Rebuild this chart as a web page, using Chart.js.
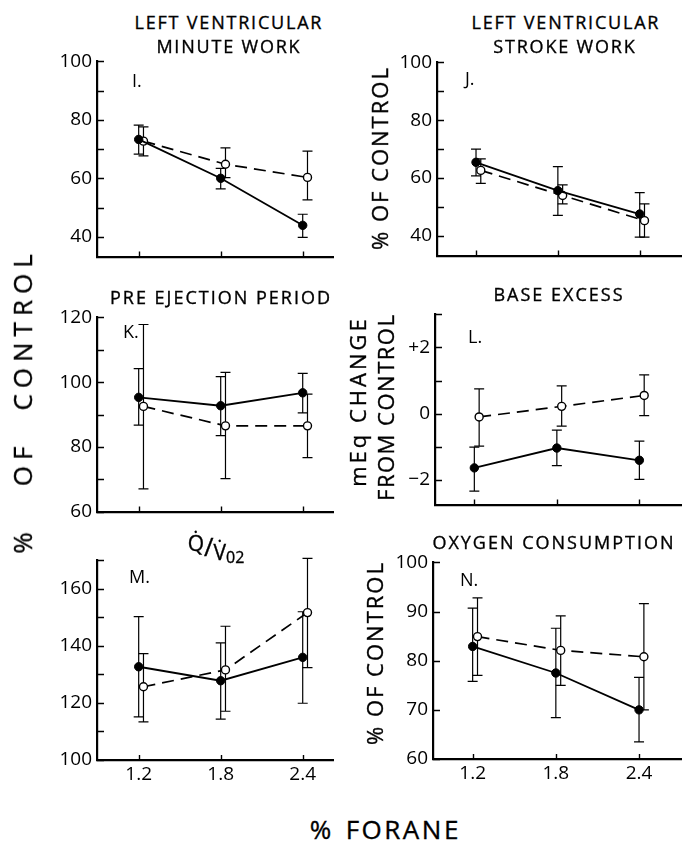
<!DOCTYPE html>
<html><head><meta charset="utf-8">
<script src="https://cdn.jsdelivr.net/npm/chart.js@4.4.1/dist/chart.umd.min.js"></script>
<style>
html,body{margin:0;padding:0;background:#fff;}
#wrap{position:relative;width:687px;height:841px;overflow:hidden;background:#fff;font-family:'Open Sans',sans-serif;color:#000;}
.lbl{position:absolute;white-space:nowrap;line-height:1;transform:translate(-50%,-50%);-webkit-text-stroke:0.35px #000;}
.rot{transform:translate(-50%,-50%) rotate(-90deg);}
canvas{position:absolute;}
</style></head><body><div id="wrap"></div>
<script>
// ---------- data ----------
const doses = [1.2, 1.8, 2.4];
const doseLabels = ['1.2', '1.8', '2.4'];
const openShift = 0.035;

// I. Left ventricular minute work (% of control)
const iSolid = [73.3, 60.0, 43.9];
const iSolidHi = [78.2, 63.4, 47.7];
const iSolidLo = [68.3, 56.4, 39.8];
const iOpen = [72.7, 64.8, 60.3];
const iOpenHi = [77.6, 70.4, 69.3];
const iOpenLo = [67.7, 60.2, 52.6];
const iTicks = [40, 60, 80, 100];
const iTickLabels = ['40', '60', '80', '100'];
const iMinor = [50, 70, 90];

// J. Left ventricular stroke work (% of control)
const jSolid = [65.4, 55.6, 47.5];
const jSolidHi = [70.0, 63.9, 54.9];
const jSolidLo = [60.7, 47.0, 39.5];
const jOpen = [62.6, 53.9, 45.2];
const jOpenHi = [66.6, 57.6, 51.0];
const jOpenLo = [58.1, 51.0, 39.5];
const jTicks = [40, 60, 80, 100];
const jTickLabels = ['40', '60', '80', '100'];
const jMinor = [50, 70, 90];

// K. Pre ejection period (% of control)
const kSolid = [95.3, 92.7, 96.7];
const kSolidHi = [104.2, 101.7, 102.7];
const kSolidLo = [86.7, 83.5, 90.5];
const kOpen = [92.5, 86.5, 86.5];
const kOpenHi = [117.8, 103.0, 96.3];
const kOpenLo = [67.0, 70.2, 76.7];
const kTicks = [60, 80, 100, 120];
const kTickLabels = ['60', '80', '100', '120'];
const kMinor = [70, 90, 110];

// L. Base excess (mEq change from control)
const lSolid = [-1.64, -1.04, -1.41];
const lSolidHi = [-1.01, -0.50, -0.83];
const lSolidLo = [-2.34, -1.57, -1.99];
const lOpen = [-0.10, 0.22, 0.55];
const lOpenHi = [0.75, 0.84, 1.17];
const lOpenLo = [-0.98, -0.38, -0.06];
const lTicks = [-2, 0, 2];
const lTickLabels = ['\u22122', '0', '+2'];
const lMinor = [-1, 1, 3];

// M. Q/VO2 (% of control)
const mSolid = [132.7, 127.8, 136.0];
const mSolidHi = [150.3, 141.1, 152.0];
const mSolidLo = [115.1, 114.3, 119.9];
const mOpen = [125.7, 131.6, 151.7];
const mOpenHi = [137.3, 146.9, 170.7];
const mOpenLo = [113.4, 117.1, 132.4];
const mTicks = [100, 120, 140, 160];
const mTickLabels = ['100', '120', '140', '160'];
const mMinor = [110, 130, 150, 170];

// N. Oxygen consumption (% of control)
const nSolid = [82.9, 77.5, 70.0];
const nSolidHi = [90.7, 86.6, 76.6];
const nSolidLo = [75.8, 68.4, 63.5];
const nOpen = [84.9, 82.1, 80.8];
const nOpenHi = [92.8, 89.1, 91.6];
const nOpenLo = [77.0, 75.0, 70.0];
const nTicks = [60, 70, 80, 90, 100];
const nTickLabels = ['60', '70', '80', '90', '100'];
const nMinor = [];

// ---------- drawing ----------
Chart.defaults.font.family = "'Open Sans', sans-serif";
Chart.defaults.color = '#000';
const wrap = document.getElementById('wrap');

function text(str, cx, cy, size, opt) {
  opt = opt || {};
  const d = document.createElement('div');
  d.className = 'lbl' + (opt.rot ? ' rot' : '');
  d.innerHTML = str;
  d.style.left = cx + 'px'; d.style.top = cy + 'px'; d.style.fontSize = size + 'px';
  if (opt.ls) { d.style.letterSpacing = opt.ls + 'px'; d.style.paddingLeft = opt.ls + 'px'; }
  wrap.appendChild(d);
}

function makeDecor(p) {
  return {
    id: 'decor',
    beforeDatasetsDraw(chart) {
      const ctx = chart.ctx, x = chart.scales.x, y = chart.scales.y;
      ctx.save(); ctx.strokeStyle = '#000'; ctx.lineWidth = 1.2;
      chart.data.datasets.forEach(ds => {
        ds.data.forEach((pt, i) => {
          const px = x.getPixelForValue(pt.x);
          const yh = y.getPixelForValue(ds.hi[i]), yl = y.getPixelForValue(ds.lo[i]);
          ctx.beginPath();
          ctx.moveTo(px, yh); ctx.lineTo(px, yl);
          ctx.moveTo(px - 5, yh); ctx.lineTo(px + 5, yh);
          ctx.moveTo(px - 5, yl); ctx.lineTo(px + 5, yl);
          ctx.stroke();
        });
      });
      ctx.restore();
    },
    afterDraw(chart) {
      const ctx = chart.ctx, a = chart.chartArea, x = chart.scales.x, y = chart.scales.y;
      ctx.save(); ctx.strokeStyle = '#000'; ctx.lineWidth = 1.4;
      ctx.beginPath();
      p.yTicks.concat(p.yMinor).forEach(v => {
        const py = Math.round(y.getPixelForValue(v)) + 0.5;
        ctx.moveTo(a.left, py); ctx.lineTo(a.left + 7, py);
      });
      doses.forEach(v => {
        const px = Math.round(x.getPixelForValue(v)) + 0.5;
        ctx.moveTo(px, a.bottom); ctx.lineTo(px, a.bottom - 5);
      });
      ctx.stroke();
      ctx.fillStyle = '#000';
      ctx.font = "18px 'Open Sans', sans-serif";
      ctx.textBaseline = 'middle';
      ctx.fillText(p.letter, a.left + p.ldx, a.top + p.ldy);
      ctx.restore();
    }
  };
}

function panel(p) {
  const YW = 60, PT = 16, XH = p.showX ? 34 : 16;
  const left = p.ax - YW, top = p.ay - PT;
  const w = p.ar + 1 - left, h = p.ab - top + XH;
  const c = document.createElement('canvas');
  c.width = w; c.height = h;
  c.style.left = left + 'px'; c.style.top = top + 'px';
  c.style.width = w + 'px'; c.style.height = h + 'px';
  wrap.appendChild(c);
  new Chart(c, {
    type: 'line',
    data: { datasets: [
      { data: doses.map((d, i) => ({ x: d, y: p.solid[i] })), hi: p.solidHi, lo: p.solidLo,
        borderColor: '#000', borderWidth: 1.8, pointRadius: 4.2, pointBackgroundColor: '#000',
        pointBorderColor: '#000', pointBorderWidth: 1, clip: false },
      { data: doses.map((d, i) => ({ x: d + openShift, y: p.open[i] })), hi: p.openHi, lo: p.openLo,
        borderColor: '#000', borderWidth: 1.7, borderDash: [12, 7], pointRadius: 4,
        pointBackgroundColor: '#fff', pointBorderColor: '#000', pointBorderWidth: 1.4, clip: false }
    ] },
    options: {
      responsive: false, animation: false, devicePixelRatio: 1,
      layout: { padding: { top: PT, right: 1, left: 0, bottom: 0 } },
      plugins: { legend: { display: false }, tooltip: { enabled: false } },
      scales: {
        x: { type: 'linear', position: 'bottom', min: p.xMin, max: p.xMax, bounds: 'data',
          afterBuildTicks: s => { s.ticks = doses.map(v => ({ value: v })); },
          afterFit: s => { s.height = XH; },
          grid: { display: false, drawTicks: false },
          border: { display: true, width: 2.2, color: '#000' },
          ticks: { display: p.showX, autoSkip: false, maxRotation: 0, padding: 3,
            font: { size: 19 }, color: '#000', callback: (v, i) => doseLabels[i] } },
        y: { type: 'linear', position: 'left', min: p.yMin, max: p.yMax, bounds: 'data',
          afterBuildTicks: s => { s.ticks = p.yTicks.map(v => ({ value: v })); },
          afterFit: s => { s.width = YW; },
          grid: { display: false, drawTicks: false },
          border: { display: true, width: 2.2, color: '#000' },
          ticks: { autoSkip: false, padding: 5, font: { size: 19 }, color: '#000',
            callback: (v, i) => p.yLabels[i] } }
      }
    },
    plugins: [makeDecor(p)]
  });
}

const LX = { xMin: 0.895, xMax: 2.626 };
const RX = { xMin: 0.914, xMax: 2.707 };

panel(Object.assign({ ax: 97, ay: 61, ar: 338, ab: 257, yMin: 33.2, yMax: 100, showX: false,
  solid: iSolid, solidHi: iSolidHi, solidLo: iSolidLo, open: iOpen, openHi: iOpenHi, openLo: iOpenLo,
  yTicks: iTicks, yLabels: iTickLabels, yMinor: iMinor, letter: 'I.', ldx: 35, ldy: 20 }, LX));
panel(Object.assign({ ax: 437, ay: 62, ar: 686, ab: 256, yMin: 33.1, yMax: 100, showX: false,
  solid: jSolid, solidHi: jSolidHi, solidLo: jSolidLo, open: jOpen, openHi: jOpenHi, openLo: jOpenLo,
  yTicks: jTicks, yLabels: jTickLabels, yMinor: jMinor, letter: 'J.', ldx: 28, ldy: 17 }, RX));
panel(Object.assign({ ax: 97, ay: 317, ar: 338, ab: 512, yMin: 60, yMax: 120, showX: false,
  solid: kSolid, solidHi: kSolidHi, solidLo: kSolidLo, open: kOpen, openHi: kOpenHi, openLo: kOpenLo,
  yTicks: kTicks, yLabels: kTickLabels, yMinor: kMinor, letter: 'K.', ldx: 26, ldy: 15 }, LX));
panel(Object.assign({ ax: 435, ay: 314, ar: 686, ab: 505, yMin: -2.75, yMax: 3, showX: false,
  solid: lSolid, solidHi: lSolidHi, solidLo: lSolidLo, open: lOpen, openHi: lOpenHi, openLo: lOpenLo,
  yTicks: lTicks, yLabels: lTickLabels, yMinor: lMinor, letter: 'L.', ldx: 33, ldy: 23 }, RX));
panel(Object.assign({ ax: 97, ay: 560, ar: 338, ab: 760, yMin: 100, yMax: 170, showX: true,
  solid: mSolid, solidHi: mSolidHi, solidLo: mSolidLo, open: mOpen, openHi: mOpenHi, openLo: mOpenLo,
  yTicks: mTicks, yLabels: mTickLabels, yMinor: mMinor, letter: 'M.', ldx: 32, ldy: 17 }, LX));
panel(Object.assign({ ax: 433, ay: 562, ar: 686, ab: 759, yMin: 60, yMax: 100, showX: true,
  solid: nSolid, solidHi: nSolidHi, solidLo: nSolidLo, open: nOpen, openHi: nOpenHi, openLo: nOpenLo,
  yTicks: nTicks, yLabels: nTickLabels, yMinor: nMinor, letter: 'N.', ldx: 27, ldy: 18 }, RX));

// ---------- titles & axis labels ----------
text('LEFT VENTRICULAR', 228, 22, 18, { ls: 1.8 });
text('MINUTE WORK', 228, 46, 18, { ls: 1.8 });
text('LEFT VENTRICULAR', 565, 22, 18, { ls: 1.8 });
text('STROKE WORK', 564, 46, 18, { ls: 1.8 });
text('PRE EJECTION PERIOD', 220, 297, 18, { ls: 2 });
text('BASE EXCESS', 558, 294, 18, { ls: 2 });
text('OXYGEN CONSUMPTION', 553, 542, 18, { ls: 2 });
text('<span style="position:relative;top:-5px">Q\u0307</span><span style="font-size:26px">/</span><span style="position:relative;top:4px">V\u0307<span style="font-size:16px;position:relative;top:3px">02</span></span>', 216, 546, 21);

text('%&nbsp;OF&nbsp;CONTROL', 379, 159, 22, { rot: true, ls: 2 });
text('%&nbsp;OF&nbsp;CONTROL', 374, 654, 22, { rot: true, ls: 2 });
text('mEq&nbsp;CHANGE', 357, 403, 22, { rot: true, ls: 3 });
text('FROM&nbsp;CONTROL', 385, 408, 22, { rot: true, ls: 1.5 });

text('%<span style="margin-left:40px">OF</span><span style="margin-left:30px">CONTROL</span>', 22, 404, 26, { rot: true, ls: 6 });
text('%<span style="margin-left:12px">FORANE</span>', 384, 829, 26, { ls: 2.5 });
</script></body></html>
